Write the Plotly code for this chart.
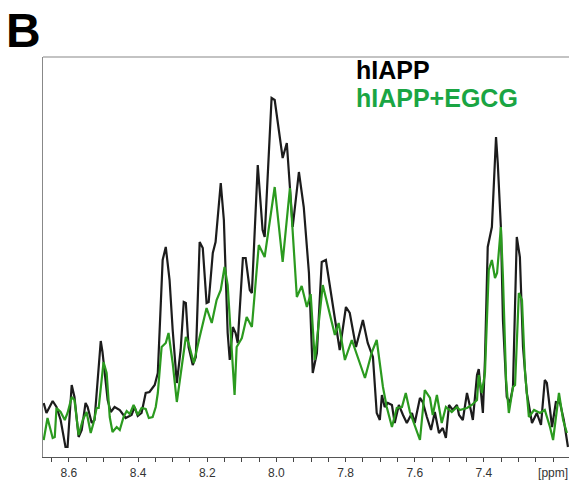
import plotly.graph_objects as go

# hIAPP (black) spectrum: chemical shift [ppm] and intensity (a.u.)
hiapp_ppm = [8.673, 8.665, 8.647, 8.636, 8.624, 8.615, 8.610, 8.604, 8.592, 8.584,
             8.572, 8.563, 8.552, 8.546, 8.534, 8.526, 8.508, 8.503, 8.488, 8.479,
             8.468, 8.453, 8.436, 8.419, 8.410, 8.401, 8.390, 8.378, 8.367, 8.352,
             8.343, 8.329, 8.320, 8.309, 8.300, 8.288, 8.277, 8.268, 8.262, 8.254,
             8.242, 8.233, 8.222, 8.213, 8.202, 8.196, 8.184, 8.176, 8.161, 8.152,
             8.141, 8.135, 8.126, 8.118, 8.112, 8.097, 8.089, 8.077, 8.071, 8.054,
             8.040, 8.034, 8.025, 8.014, 8.005, 7.982, 7.970, 7.953, 7.935, 7.921,
             7.906, 7.895, 7.883, 7.869, 7.857, 7.837, 7.817, 7.799, 7.788, 7.770,
             7.750, 7.736, 7.721, 7.710, 7.701, 7.695, 7.687, 7.678, 7.666, 7.658,
             7.646, 7.634, 7.623, 7.608, 7.600, 7.585, 7.577, 7.565, 7.553, 7.542,
             7.530, 7.519, 7.510, 7.501, 7.490, 7.478, 7.472, 7.461, 7.449, 7.438,
             7.432, 7.420, 7.415, 7.403, 7.397, 7.389, 7.377, 7.365, 7.360, 7.351,
             7.345, 7.334, 7.325, 7.316, 7.305, 7.296, 7.287, 7.276, 7.261, 7.247,
             7.235, 7.224, 7.218, 7.203, 7.192, 7.180, 7.169, 7.157]
hiapp_int = [54, 44, 56, 50, 37, 20, 10, 10, 72, 60,
             20, 27, 54, 50, 34, 37, 116, 105, 57, 45,
             50, 47, 39, 42, 50, 41, 44, 64, 65, 72,
             84, 197, 210, 177, 127, 74, 107, 155, 154, 110,
             92, 100, 215, 209, 154, 155, 204, 215, 274, 237,
             124, 97, 130, 124, 114, 199, 199, 167, 164, 292,
             227, 220, 287, 359, 357, 299, 314, 230, 285, 250,
             184, 84, 104, 195, 197, 150, 107, 150, 144, 110,
             137, 114, 100, 44, 37, 62, 50, 54, 52, 34,
             52, 42, 34, 44, 34, 59, 55, 40, 27, 45,
             24, 29, 19, 52, 47, 52, 42, 37, 64, 47,
             37, 82, 88, 44, 97, 210, 230, 320, 294, 230,
             137, 60, 54, 70, 220, 200, 110, 64, 34, 44,
             32, 77, 74, 30, 55, 54, 37, 10]

# hIAPP+EGCG (green) spectrum
egcg_ppm = [8.673, 8.662, 8.647, 8.641, 8.636, 8.624, 8.612, 8.604, 8.592, 8.584,
            8.572, 8.560, 8.549, 8.537, 8.529, 8.520, 8.514, 8.500, 8.491, 8.482,
            8.474, 8.462, 8.453, 8.442, 8.433, 8.424, 8.413, 8.401, 8.390, 8.378,
            8.369, 8.358, 8.349, 8.343, 8.332, 8.320, 8.312, 8.300, 8.288, 8.262,
            8.254, 8.239, 8.222, 8.202, 8.187, 8.173, 8.161, 8.150, 8.141, 8.129,
            8.121, 8.115, 8.100, 8.086, 8.071, 8.051, 8.034, 8.005, 7.982, 7.961,
            7.941, 7.927, 7.912, 7.901, 7.889, 7.866, 7.831, 7.820, 7.802, 7.782,
            7.762, 7.744, 7.724, 7.710, 7.692, 7.681, 7.666, 7.652, 7.637, 7.626,
            7.614, 7.606, 7.585, 7.571, 7.556, 7.548, 7.536, 7.522, 7.510, 7.493,
            7.478, 7.470, 7.449, 7.435, 7.420, 7.415, 7.406, 7.397, 7.386, 7.377,
            7.368, 7.362, 7.351, 7.345, 7.336, 7.328, 7.316, 7.310, 7.299, 7.290,
            7.281, 7.270, 7.255, 7.238, 7.224, 7.209, 7.200, 7.183, 7.171, 7.160]
egcg_int = [17, 39, 19, 20, 49, 45, 37, 44, 60, 57,
            22, 37, 45, 24, 34, 49, 49, 95, 84, 40,
            25, 30, 27, 40, 46, 43, 52, 42, 49, 48,
            39, 40, 50, 64, 110, 114, 124, 94, 55, 120,
            114, 94, 120, 149, 134, 157, 167, 190, 172, 100,
            62, 110, 119, 140, 130, 212, 200, 270, 195, 269,
            160, 171, 150, 163, 97, 172, 122, 134, 97, 117,
            97, 79, 105, 117, 70, 50, 30, 49, 50, 64,
            45, 37, 17, 67, 59, 42, 62, 34, 50, 45,
            50, 47, 49, 52, 57, 82, 64, 84, 187, 197,
            179, 184, 230, 180, 77, 44, 70, 72, 164, 157,
            84, 40, 47, 44, 47, 30, 17, 64, 37, 24]

tick_vals = [8.6, 8.4, 8.2, 8.0, 7.8, 7.6, 7.4, 7.2]
tick_text = ["8.6", "8.4", "8.2", "8.0", "7.8", "7.6", "7.4", "[ppm]"]

FONT = "Liberation Sans, Arial, sans-serif"

fig = go.Figure()
fig.add_trace(go.Scatter(x=hiapp_ppm, y=hiapp_int, mode="lines", name="hIAPP",
                         line=dict(color="#1c1c1c", width=2.2), hoverinfo="x+y"))
fig.add_trace(go.Scatter(x=egcg_ppm, y=egcg_int, mode="lines", name="hIAPP+EGCG",
                         line=dict(color="#2b9a1f", width=2.2), hoverinfo="x+y"))

fig.update_layout(
    width=569, height=480,
    margin=dict(l=43, r=0, t=57, b=23),
    paper_bgcolor="white", plot_bgcolor="white",
    showlegend=False,
    font=dict(family=FONT, color="#333333"),
    xaxis=dict(
        range=[8.675, 7.154], autorange=False,
        showgrid=False, zeroline=False,
        showline=True, linecolor="#555555", linewidth=1.2,
        tickmode="array", tickvals=tick_vals, ticktext=tick_text,
        ticks="outside", ticklen=4, tickwidth=1.2, tickcolor="#444444",
        tickfont=dict(size=12, color="#333333"),
        minor=dict(tick0=0, dtick=0.05, ticks="outside", ticklen=4,
                   tickwidth=1.2, tickcolor="#444444", showgrid=False),
    ),
    yaxis=dict(
        range=[0, 400], autorange=False,
        showgrid=False, zeroline=False, showticklabels=False, ticks="",
        showline=True, linecolor="#888888", linewidth=1.2,
    ),
    shapes=[dict(type="line", xref="paper", yref="paper", x0=0, x1=1, y0=1, y1=1,
                 line=dict(color="#888888", width=1.2))],
    annotations=[
        dict(text="<b>B</b>", xref="paper", yref="paper", x=-0.038, y=1.0675,
             xanchor="center", yanchor="middle", showarrow=False,
             font=dict(size=48, color="#000000", family=FONT)),
        dict(text="<b>hIAPP</b>", xref="paper", yref="paper", x=0.594, y=0.9675,
             xanchor="left", yanchor="middle", showarrow=False, borderpad=0,
             font=dict(size=25, color="#000000", family=FONT)),
        dict(text="<b>hIAPP+EGCG</b>", xref="paper", yref="paper", x=0.594, y=0.8975,
             xanchor="left", yanchor="middle", showarrow=False, borderpad=0,
             font=dict(size=25, color="#1aa543", family=FONT)),
    ],
)

fig.write_html(
    "out.html",
    config={"displayModeBar": False},
    post_script="document.body.style.margin='0px';document.body.style.overflow='hidden';",
)
